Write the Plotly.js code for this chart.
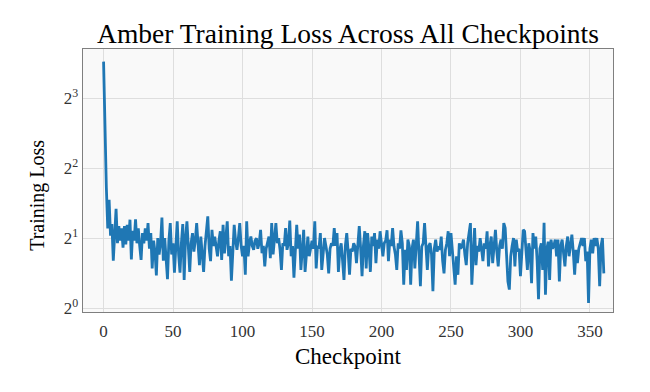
<!DOCTYPE html>
<html>
<head>
<meta charset="utf-8">
<script src="https://cdn.plot.ly/plotly-3.0.1.min.js"></script>
<style>html,body{margin:0;padding:0;background:#fff;}#chart{width:650px;height:392px;}</style>
</head>
<body>
<div id="chart"></div>
<script>
// Training loss per checkpoint
const lossValues = [
  11.5, 5.0, 3.3, 2.2, 2.92, 2.05, 2.3, 1.6, 2.1, 2.67,
  1.9, 2.25, 1.95, 2.2, 1.82, 2.25, 1.88, 2.28, 1.95, 2.40,
  1.62, 2.15, 1.95, 2.41, 1.9, 2.2, 1.85, 1.61, 2.1, 1.9,
  2.2, 1.95, 2.32, 1.8, 2.1, 1.48, 1.95, 1.75, 1.38, 2.0,
  1.7, 1.9, 2.45, 1.6, 2.0, 1.7, 1.33, 1.95, 2.32, 1.7,
  1.9, 1.42, 2.0, 2.36, 1.7, 1.42, 1.9, 2.3, 1.32, 2.0,
  2.36, 1.8, 1.43, 1.9, 2.10, 1.75, 1.95, 2.32, 1.75, 1.53,
  2.03, 1.7, 1.43, 1.85, 2.1, 2.48, 1.8, 1.59, 2.17, 1.85,
  2.03, 1.8, 1.67, 1.95, 2.14, 1.61, 2.28, 1.72, 1.95, 2.36,
  1.67, 1.85, 1.31, 1.9, 2.28, 1.95, 1.78, 2.0, 2.32, 1.85,
  1.67, 1.85, 1.39, 2.36, 1.67, 1.9, 2.03, 1.85, 1.78, 1.95,
  2.0, 1.8, 1.9, 2.17, 1.72, 1.85, 1.51, 1.8, 1.9, 2.03,
  1.64, 2.32, 1.70, 1.95, 2.32, 1.9, 2.0, 1.78, 1.46, 1.9,
  1.85, 2.21, 1.78, 1.9, 2.38, 1.67, 1.85, 1.35, 1.9, 2.28,
  1.8, 2.07, 1.46, 1.85, 2.17, 1.43, 1.8, 2.03, 1.67, 1.85,
  1.95, 1.8, 2.36, 1.48, 1.85, 1.8, 2.10, 1.46, 1.8, 2.0,
  1.85, 1.7, 1.41, 1.8, 1.9, 1.85, 2.21, 1.85, 2.10, 1.43,
  1.78, 1.9, 1.6, 1.32, 1.85, 2.10, 1.75, 1.39, 1.8, 1.75,
  1.90, 1.84, 1.56, 1.9, 2.25, 1.8, 1.37, 1.85, 2.14, 1.48,
  2.1, 1.8, 1.43, 2.03, 1.85, 2.10, 1.56, 1.97, 1.8, 2.14,
  1.85, 1.67, 1.9, 1.95, 2.16, 1.59, 1.97, 1.85, 2.21, 1.84,
  1.7, 1.46, 1.90, 1.8, 2.16, 1.9, 1.26, 1.78, 1.46, 1.97,
  1.85, 1.26, 1.8, 1.97, 1.48, 1.9, 2.36, 1.7, 1.24, 1.84,
  1.9, 2.32, 1.8, 1.46, 1.85, 1.90, 1.7, 1.18, 1.8, 1.97,
  1.75, 1.84, 1.78, 2.03, 1.6, 1.41, 1.78, 1.9, 2.14, 1.67,
  2.10, 1.75, 1.5, 1.26, 1.67, 1.39, 1.90, 1.8, 1.85, 1.97,
  1.7, 1.53, 1.9, 2.1, 2.32, 1.26, 1.85, 2.21, 1.53, 1.85,
  1.75, 2.00, 1.8, 1.59, 1.9, 1.8, 2.14, 1.51, 1.85, 2.03,
  1.56, 1.8, 2.17, 1.75, 1.51, 1.85, 1.97, 1.8, 2.32, 2.21,
  1.67, 1.30, 1.20, 1.67, 1.85, 2.0, 1.51, 1.97, 1.75, 1.8,
  1.37, 1.85, 2.17, 2.14, 1.8, 1.46, 1.90, 1.75, 1.28, 2.10,
  1.8, 2.03, 1.6, 1.09, 1.8, 1.90, 1.46, 2.33, 1.14, 1.8,
  1.93, 1.32, 1.97, 1.8, 1.85, 1.97, 1.67, 1.97, 1.30, 1.85,
  1.97, 1.75, 1.51, 1.85, 2.03, 1.67, 1.85, 2.07, 1.75, 1.39,
  1.78, 1.56, 1.8, 1.9, 2.0, 1.85, 2.0, 1.59, 1.75, 1.05,
  1.8, 1.97, 1.72, 2.0, 1.85, 2.0, 1.8, 1.24, 1.85, 2.0,
  1.41
];
const checkpoints = lossValues.map((_, i) => i);
const xTickVals = [0, 50, 100, 150, 200, 250, 300, 350];
const yTickVals = [1, 2, 4, 8];
const yTickText = ['2<sup>0</sup>', '2<sup>1</sup>', '2<sup>2</sup>', '2<sup>3</sup>'];

const serif = 'Liberation Serif, Times New Roman, serif';
const trace = {
  x: checkpoints, y: lossValues, type: 'scatter', mode: 'lines',
  line: {color: '#1f77b4', width: 2.8}, hoverinfo: 'skip'
};
const layout = {
  width: 650, height: 392,
  margin: {l: 83, r: 37, t: 49, b: 80},
  paper_bgcolor: '#ffffff', plot_bgcolor: '#f9f9f9',
  showlegend: false,
  font: {family: serif, color: '#000', size: 17},
  title: {text: 'Amber Training Loss Across All Checkpoints', font: {family: serif, size: 27.5, color: '#000'},
          x: 0.5, xref: 'paper', xanchor: 'center', y: 1 - 33/392, yref: 'container', yanchor: 'middle'},
  xaxis: {
    range: [-14.8, 366.6], tickvals: xTickVals, ticks: '', ticklabelstandoff: 3,
    showgrid: true, gridcolor: '#dedede', gridwidth: 1, zeroline: false,
    showline: true, mirror: true, linecolor: '#7f7f7f', linewidth: 1.3,
    tickfont: {family: serif, size: 17, color: '#333'},
    title: {text: 'Checkpoint', font: {family: serif, size: 23, color: '#000'}, standoff: 8}
  },
  yaxis: {
    type: 'log', range: [-0.0172, 1.115], tickvals: yTickVals, ticktext: yTickText, ticks: '',
    showgrid: true, gridcolor: '#dedede', gridwidth: 1, zeroline: false,
    showline: true, mirror: true, linecolor: '#7f7f7f', linewidth: 1.3,
    tickfont: {family: serif, size: 17, color: '#333'}
  },
  annotations: [{
    text: 'Training Loss', textangle: -90, showarrow: false,
    xref: 'paper', yref: 'paper', x: (38 - 83) / 530, y: (312.3 - 196) / 263.3,
    xanchor: 'center', yanchor: 'middle',
    font: {family: serif, size: 20, color: '#000'}
  }]
};
Plotly.newPlot('chart', [trace], layout, {displayModeBar: false, staticPlot: true});
</script>
</body>
</html>
